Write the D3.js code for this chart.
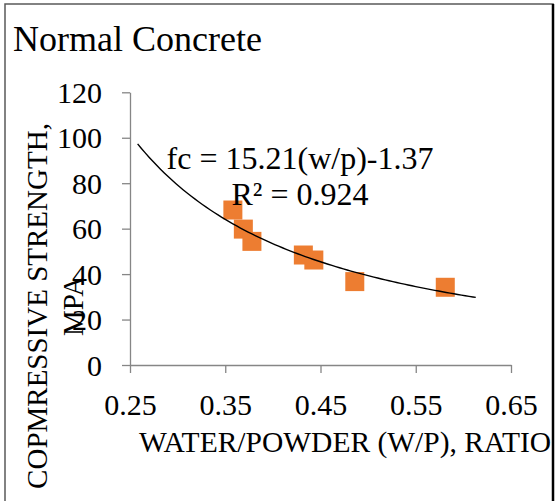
<!DOCTYPE html>
<html>
<head>
<meta charset="utf-8">
<title>Normal Concrete</title>
<script src="https://cdn.jsdelivr.net/npm/d3@7"></script>
<style>
    body { margin: 0; background: #fff; }
    text { font-family: "Liberation Serif", "Times New Roman", serif; fill: #000; }
    .axis path, .axis line { stroke: #868686; stroke-width: 1.3px; }
    .axis text { font-size: 30px; font-family: "Liberation Serif", "Times New Roman", serif; }
</style>
</head>
<body>
<script>
    // measured points: water/powder ratio vs compressive strength
    var wpRatio = [0.358, 0.369, 0.378, 0.432, 0.443, 0.486, 0.581];
    var strength = [68.2, 59.8, 54.4, 48.4, 46.2, 36.7, 34.2];

    var xTicks = [0.25, 0.35, 0.45, 0.55, 0.65];
    var yTicks = [0, 20, 40, 60, 80, 100, 120];

    // power trendline fc = a * (w/p)^b
    var trendA = 15.21, trendB = -1.37;
    var trendRange = [0.258, 0.613];
    var eqLines = ["fc = 15.21(w/p)-1.37", "R\u00b2 = 0.924"];

    var width = 557, height = 501;

    var svg = d3.select("body").append("svg")
        .attr("width", width)
        .attr("height", height);

    svg.append("defs").append("clipPath")
        .attr("id", "chartClip")
      .append("rect")
        .attr("x", 0).attr("y", 0)
        .attr("width", 553).attr("height", height);

    var chart = svg.append("g").attr("clip-path", "url(#chartClip)");

    var x = d3.scaleLinear().domain([0.25, 0.65]).range([130, 511]);
    var y = d3.scaleLinear().domain([0, 120]).range([365, 92.3]);

    // title
    chart.append("text")
        .attr("x", 13).attr("y", 51)
        .style("font-size", "36px")
        .text("Normal Concrete");

    var xAxis = chart.append("g")
        .attr("class", "axis")
        .attr("transform", "translate(0," + y(0) + ")")
        .call(d3.axisBottom(x).tickValues(xTicks).tickFormat(d3.format(".2f"))
            .tickSize(8).tickSizeOuter(0).tickPadding(20));

    var yAxis = chart.append("g")
        .attr("class", "axis")
        .attr("transform", "translate(" + x(0.25) + ",0)")
        .call(d3.axisLeft(y).tickValues(yTicks).tickSize(8).tickSizeOuter(0).tickPadding(20));

    yAxis.selectAll("text").attr("dy", "0.34em");
    xAxis.selectAll("text").attr("dy", "0.72em");

    // axis titles
    chart.append("text")
        .attr("x", 139).attr("y", 452)
        .style("font-size", "29.5px")
        .text("WATER/POWDER (W/P), RATIO");

    var yTitle = chart.append("text")
        .attr("transform", "translate(47,306) rotate(-90)")
        .attr("text-anchor", "middle")
        .style("font-size", "29px");
    yTitle.append("tspan").attr("x", 0).attr("y", 0).text("COPMRESSIVE STRENGTH,");
    yTitle.append("tspan").attr("x", 0).attr("y", 36).text("MPA");

    // trendline
    var curveX = d3.range(trendRange[0], trendRange[1], 0.004).concat([trendRange[1]]);
    var line = d3.line()
        .x(function (d) { return x(d); })
        .y(function (d) { return y(trendA * Math.pow(d, trendB)); });

    // points
    var pts = wpRatio.map(function (v, i) { return { wp: v, fc: strength[i] }; });
    var sq = 19;
    chart.selectAll(".pt")
        .data(pts)
        .enter().append("rect")
        .attr("class", "pt")
        .attr("x", function (d) { return x(d.wp) - sq / 2; })
        .attr("y", function (d) { return y(d.fc) - sq / 2; })
        .attr("width", sq).attr("height", sq)
        .attr("fill", "#ED7D31");

    chart.append("path")
        .datum(curveX)
        .attr("d", line)
        .attr("fill", "none")
        .attr("stroke", "#000")
        .attr("stroke-width", 1.4);

    // equation label
    chart.append("text")
        .attr("text-anchor", "middle")
        .style("font-size", "32px")
        .selectAll("tspan")
        .data(eqLines)
        .enter().append("tspan")
        .attr("x", 300)
        .attr("y", function (d, i) { return 169 + i * 36; })
        .text(function (d) { return d; });

    // chart border
    svg.append("rect")
        .attr("x", 5).attr("y", 4)
        .attr("width", 548).attr("height", 520)
        .attr("fill", "none")
        .attr("stroke", "#595959")
        .attr("stroke-width", 1.5);
    svg.append("line")
        .attr("x1", 553).attr("x2", 553)
        .attr("y1", 4).attr("y2", height)
        .attr("stroke", "#000")
        .attr("stroke-width", 2.5);
</script>
</body>
</html>
